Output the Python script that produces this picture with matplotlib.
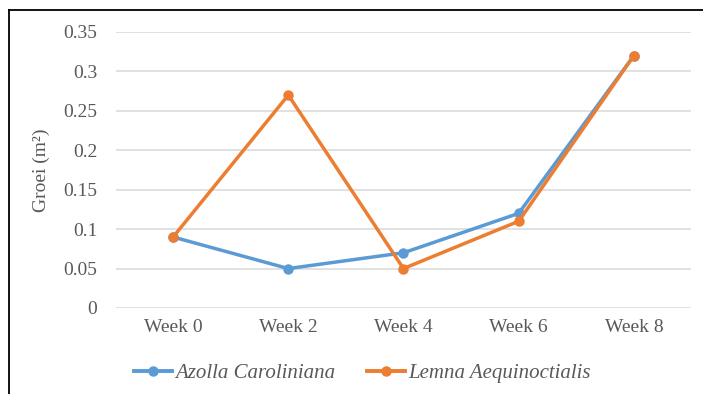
import numpy as np
import matplotlib.pyplot as plt
from matplotlib.lines import Line2D
from matplotlib.ticker import FuncFormatter

weeks = ['Week 0', 'Week 2', 'Week 4', 'Week 6', 'Week 8']
azolla = [0.09, 0.05, 0.07, 0.12, 0.32]
lemna = [0.09, 0.27, 0.05, 0.11, 0.32]
y_ticks = [0, 0.05, 0.1, 0.15, 0.2, 0.25, 0.3, 0.35]

blue = '#5B9BD5'
orange = '#ED7D31'
txt = '#595959'

plt.rcParams['font.family'] = ['Liberation Serif', 'DejaVu Serif']

fig = plt.figure(figsize=(7.03, 3.94), dpi=100)
ax = fig.add_axes([0.1643, 0.2183, 0.8193, 0.7005])

x = np.arange(len(weeks))
ax.plot(x, azolla, color=blue, lw=2.5, marker='o', ms=6.5, label='Azolla Caroliniana', zorder=3)
ax.plot(x, lemna, color=orange, lw=2.5, marker='o', ms=6.5, label='Lemna Aequinoctialis', zorder=4)

ax.set_xlim(-0.5, len(weeks) - 0.5)
ax.set_ylim(0, 0.35)
ax.set_yticks(y_ticks)
ax.yaxis.set_major_formatter(FuncFormatter(lambda v, p: '%g' % round(v, 2)))
ax.set_xticks(x)
ax.set_xticklabels(weeks)
ax.grid(axis='y', color='#D9D9D9', lw=1.1)
ax.set_axisbelow(True)
for s in ax.spines.values():
    s.set_visible(False)
ax.tick_params(axis='y', length=0, pad=13, labelsize=14, labelcolor=txt)
ax.tick_params(axis='x', length=0, pad=8, labelsize=14, labelcolor=txt)
ax.set_ylabel('Groei (m²)', fontsize=14, color=txt, labelpad=10)

handles = [Line2D([], [], color=blue, lw=2.8, marker='o', ms=6.5),
           Line2D([], [], color=orange, lw=2.8, marker='o', ms=6.5)]
fig.legend(handles, ['Azolla Caroliniana', 'Lemna Aequinoctialis'],
           loc='center', bbox_to_anchor=(0.5156, 0.053), ncol=2, frameon=False,
           prop={'style': 'italic', 'size': 15}, labelcolor=txt,
           handlelength=1.85, handletextpad=0.15, columnspacing=1.5)

# chart frame edges (left and top)
fig.add_artist(Line2D([9 / 703, 9 / 703], [0, 1 - 10 / 394], color='black', lw=1.3,
                      transform=fig.transFigure))
fig.add_artist(Line2D([9 / 703, 1], [1 - 10 / 394, 1 - 10 / 394], color='black', lw=1.3,
                      transform=fig.transFigure))

fig.savefig('out.png', dpi=100)
